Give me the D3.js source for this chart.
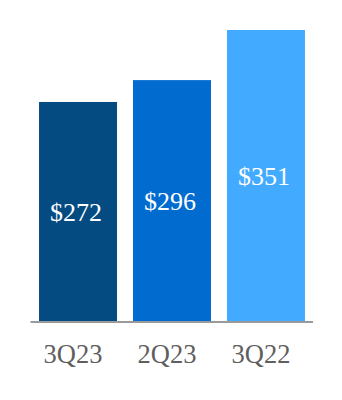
<!DOCTYPE html>
<html>
<head>
<meta charset="utf-8">
<script src="https://cdn.jsdelivr.net/npm/d3@7"></script>
<style>
  html, body { margin: 0; padding: 0; background: #fff; }
  svg { display: block; }
</style>
</head>
<body>
<svg id="chart" width="342" height="400"></svg>
<script>
const categories = ["3Q23", "2Q23", "3Q22"];
const values = [272, 296, 351];
const valueLabels = ["$272", "$296", "$351"];
const barColors = ["#044b82", "#016bcf", "#42abff"];

const svg = d3.select("#chart");
const baseline = 322;

const x = d3.scaleBand()
  .domain(categories)
  .range([30, 314])
  .paddingInner(0.17)
  .paddingOuter(0.096);

const y = d3.scaleLinear()
  .domain([30.5, 351])
  .range([baseline, 30]);

svg.selectAll("rect.bar")
  .data(values)
  .join("rect")
  .attr("class", "bar")
  .attr("x", (d, i) => x(categories[i]))
  .attr("width", x.bandwidth())
  .attr("y", d => y(d))
  .attr("height", d => baseline - y(d))
  .attr("fill", (d, i) => barColors[i]);

svg.selectAll("text.val")
  .data(values)
  .join("text")
  .attr("class", "val")
  .attr("x", (d, i) => x(categories[i]) + x.bandwidth() / 2 - 2)
  .attr("y", d => (y(d) + baseline) / 2)
  .attr("dy", "0.35em")
  .attr("text-anchor", "middle")
  .attr("font-family", "Liberation Serif, Times New Roman, serif")
  .attr("font-size", 26)
  .attr("fill", "#ffffff")
  .text((d, i) => valueLabels[i]);

const xAxis = d3.axisBottom(x).tickSize(0).tickPadding(0);
const gx = svg.append("g")
  .attr("transform", `translate(0,${baseline})`)
  .call(xAxis);
gx.select(".domain")
  .attr("d", "M30.5,0H313")
  .attr("stroke", "#9a9a9a")
  .attr("stroke-width", 2);
gx.selectAll(".tick text")
  .attr("x", -5)
  .attr("y", 41)
  .attr("dy", 0)
  .attr("font-family", "Liberation Serif, Times New Roman, serif")
  .attr("font-size", 26.5)
  .attr("fill", "#5f5f5f");
</script>
</body>
</html>
